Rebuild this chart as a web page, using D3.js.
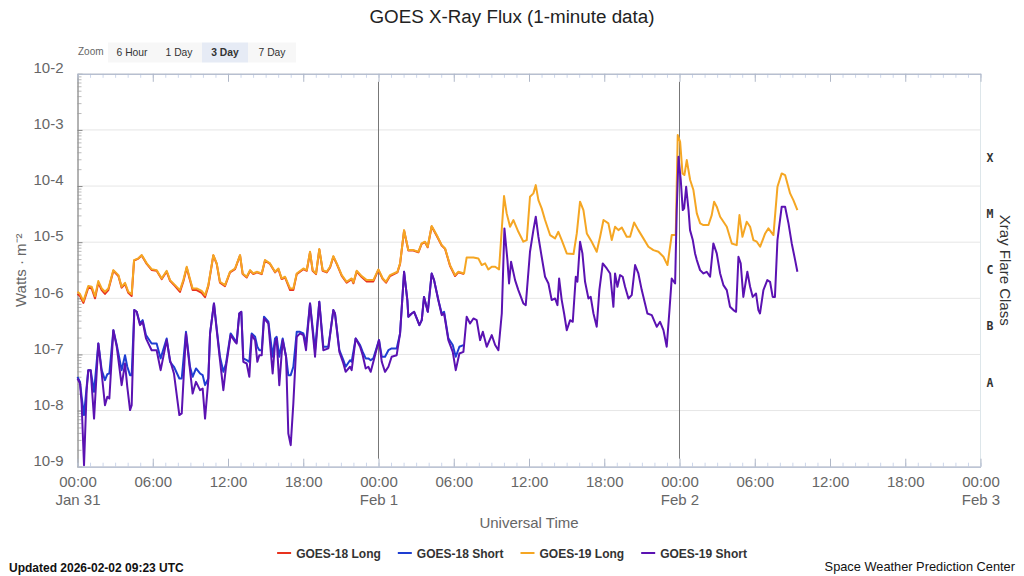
<!DOCTYPE html>
<html>
<head>
<meta charset="utf-8">
<title>GOES X-Ray Flux</title>
<script src="https://cdn.jsdelivr.net/npm/d3@7"></script>
<style>
  body { margin: 0; background: #fff; }
  svg { display: block; font-family: "Liberation Sans", Arial, Helvetica, sans-serif; }
</style>
</head>
<body>
<div id="chart"></div>
<script>

// readings: [hours after 2026-01-31 00:00 UTC, flux in W/m^2]
var g18Long = [[0,1.2e-6],[0.2,1.1e-6],[0.47,8.3e-7],[0.86,1.55e-6],[1.13,1.5e-6],[1.40,1.0e-6],[1.66,1.9e-6],[1.93,1.4e-6],[2.19,1.2e-6],[2.46,1.4e-6],
  [2.86,3.1e-6],[3.26,2.5e-6],[3.52,1.55e-6],[3.79,1.8e-6],[4.05,1.25e-6],[4.32,1.1e-6],[4.51,4.7e-6],[4.85,5.1e-6],[5.12,5.8e-6],[5.52,4.1e-6],
  [5.91,3.2e-6],[6.31,3.1e-6],[6.71,2.2e-6],[7.11,3.0e-6],[7.38,2.05e-6],[7.78,1.65e-6],[8.17,1.3e-6],[8.44,2.0e-6],[8.71,3.5e-6],[8.92,2.3e-6],
  [9.18,1.4e-6],[9.50,1.4e-6],[9.90,1.25e-6],[10.17,1.05e-6],[10.43,1.65e-6],[10.83,5.8e-6],[11.10,4.1e-6],[11.36,1.9e-6],[11.76,1.65e-6],[12.16,2.9e-6],
  [12.56,3.3e-6],[12.96,5.8e-6],[13.17,2.7e-6],[13.49,2.35e-6],[13.76,3.1e-6],[14.02,2.7e-6],[14.29,2.9e-6],[14.69,2.7e-6],[14.95,4.7e-6],[15.35,4.1e-6],
  [15.75,2.9e-6],[16.02,3.3e-6],[16.28,2.2e-6],[16.55,2.35e-6],[16.95,1.4e-6],[17.21,1.4e-6],[17.48,2.7e-6],[18.01,3.3e-6],[18.28,3.1e-6],[18.54,6.6e-6],
  [18.75,3.1e-6],[19.02,2.7e-6],[19.28,7.4e-6],[19.55,3.1e-6],[19.87,2.9e-6],[20.14,3.55e-6],[20.40,5.5e-6],[20.67,4.1e-6],[21.07,2.5e-6],[21.46,1.9e-6],
  [21.86,2.2e-6],[22.0,1.85e-6],[22.26,3.0e-6],[22.66,2.4e-6],[23.06,2.0e-6],[23.59,2.0e-6],[23.99,3.2e-6],[24.34,2.2e-6],[24.60,1.9e-6],[24.92,2.5e-6],
  [25.51,2.9e-6],[25.72,4.1e-6],[26.04,1.6e-5],[26.38,7.1e-6],[26.78,7.1e-6],[27.18,6.6e-6],[27.44,9.3e-6],[27.71,1.0e-5],[27.92,8.1e-6],[28.24,1.9e-5],
  [28.64,1.3e-5],[29.04,8.7e-6],[29.31,7.6e-6],[29.70,3.8e-6],[30.10,2.5e-6],[30.37,2.9e-6],[30.82,2.7e-6]];

var g18Short = [[0,3.99e-8],[0.2,3.25e-8],[0.33,1.76e-8],[0.52,8.3e-9],[0.73,2.65e-8],[0.86,5.25e-8],[1.05,5.25e-8],[1.32,2.16e-8],[1.66,1.57e-7],[1.93,5.25e-8],
  [2.19,3.48e-8],[2.38,4.46e-8],[2.54,4.58e-8],[2.86,2.71e-7],[3.13,1.47e-7],[3.52,5.25e-8],[3.79,9.7e-8],[3.97,6.03e-8],[4.19,4.28e-8],[4.32,4.28e-8],
  [4.53,6.17e-7],[4.72,5.75e-7],[4.98,3.56e-7],[5.20,4.08e-7],[5.46,2.21e-7],[5.91,1.57e-7],[6.31,1.57e-7],[6.63,8.5e-8],[7.11,1.93e-7],[7.38,7.4e-8],
  [7.69,6.03e-8],[8.12,3.73e-8],[8.31,3.73e-8],[8.65,2.53e-7],[8.97,6.03e-8],[9.18,3.99e-8],[9.45,5.62e-8],[9.77,4.58e-8],[9.98,4.28e-8],[10.17,2.84e-8],
  [10.43,3.73e-8],[10.57,2.37e-7],[10.88,8.1e-7],[11.10,2.9e-7],[11.36,9.1e-8],[11.63,4.9e-8],[11.84,6.9e-8],[12.21,2.37e-7],[12.56,1.8e-7],[12.69,1.68e-7],
  [12.90,5.37e-7],[13.06,5.75e-7],[13.22,8.5e-8],[13.49,7.9e-8],[13.70,7.4e-8],[13.89,2.37e-7],[14.16,2.06e-7],[14.34,1.37e-7],[14.50,1.19e-7],[14.69,1.19e-7],
  [14.87,4.69e-7],[15.22,3.82e-7],[15.56,9.1e-8],[15.75,1.93e-7],[15.88,2.06e-7],[16.09,9.1e-8],[16.36,1.93e-7],[16.63,9.1e-8],[16.81,4.28e-8],[17.00,4.28e-8],
  [17.21,6.03e-8],[17.48,2.53e-7],[17.74,2.53e-7],[18.01,2.37e-7],[18.22,1.57e-7],[18.54,8.1e-7],[18.94,1.19e-7],[19.28,8.67e-7],[19.60,1.37e-7],[20.00,1.37e-7],
  [20.40,6.17e-7],[20.53,5.37e-7],[20.88,1.19e-7],[21.20,7.9e-8],[21.38,6.03e-8],[21.73,7.9e-8],[21.86,7.4e-8],[22.18,1.93e-7],[22.53,1.47e-7],[22.74,1.11e-7],
  [22.98,8.5e-8],[23.19,8.5e-8],[23.38,7.9e-8],[23.59,8.5e-8],[24.04,1.8e-7],[24.26,9.1e-8],[24.52,9.1e-8],[24.79,1.19e-7],[25.05,1.28e-7],[25.45,1.28e-7],
  [25.72,2.37e-7],[26.04,2.97e-6],[26.30,9.3e-7],[26.38,4.69e-7],[26.65,5.37e-7],[26.84,5.75e-7],[27.05,4.38e-7],[27.26,3.33e-7],[27.45,4.08e-7],[27.63,1.06e-6],
  [27.93,5.75e-7],[28.24,2.77e-6],[28.43,2.11e-6],[28.77,9.3e-7],[29.04,5.37e-7],[29.23,5.75e-7],[29.57,1.93e-7],[29.92,1.47e-7],[30.16,9.1e-8],[30.45,1.37e-7],
  [30.77,1.47e-7]];

var g19Long = [[0,1.31e-6],[0.2,1.19e-6],[0.47,8.9e-7],[0.86,1.65e-6],[1.13,1.61e-6],[1.40,1.09e-6],[1.66,2.03e-6],[1.93,1.5e-6],[2.19,1.31e-6],[2.46,1.5e-6],
  [2.86,3.18e-6],[3.26,2.59e-6],[3.52,1.61e-6],[3.79,1.89e-6],[4.05,1.31e-6],[4.32,1.19e-6],[4.51,4.8e-6],[4.85,5.14e-6],[5.12,5.89e-6],[5.52,4.19e-6],
  [5.91,3.31e-6],[6.31,3.18e-6],[6.71,2.26e-6],[7.11,3.1e-6],[7.38,2.11e-6],[7.78,1.72e-6],[8.17,1.4e-6],[8.44,2.11e-6],[8.71,3.65e-6],[8.92,2.42e-6],
  [9.18,1.5e-6],[9.50,1.5e-6],[9.90,1.36e-6],[10.17,1.14e-6],[10.43,1.72e-6],[10.83,5.89e-6],[11.10,4.19e-6],[11.36,1.97e-6],[11.76,1.72e-6],[12.16,2.97e-6],
  [12.56,3.4e-6],[12.96,5.89e-6],[13.17,2.77e-6],[13.49,2.42e-6],[13.76,3.18e-6],[14.02,2.77e-6],[14.29,2.97e-6],[14.69,2.77e-6],[14.95,4.8e-6],[15.35,4.19e-6],
  [15.75,2.97e-6],[16.02,3.4e-6],[16.28,2.26e-6],[16.55,2.42e-6],[16.95,1.5e-6],[17.21,1.5e-6],[17.48,2.77e-6],[18.01,3.4e-6],[18.28,3.18e-6],[18.54,6.75e-6],
  [18.75,3.18e-6],[19.02,2.77e-6],[19.28,7.54e-6],[19.55,3.18e-6],[19.87,2.97e-6],[20.14,3.65e-6],[20.40,5.65e-6],[20.67,4.19e-6],[21.07,2.59e-6],[21.46,1.97e-6],
  [21.86,2.26e-6],[22.0,1.92e-6],[22.26,3.1e-6],[22.66,2.49e-6],[23.06,2.11e-6],[23.59,2.11e-6],[23.99,3.27e-6],[24.34,2.26e-6],[24.60,1.97e-6],[24.92,2.59e-6],
  [25.51,2.97e-6],[25.72,4.19e-6],[26.04,1.64e-5],[26.38,7.23e-6],[26.78,7.23e-6],[27.18,6.75e-6],[27.44,9.5e-6],[27.71,1.02e-5],[27.92,8.3e-6],[28.24,1.94e-5],
  [28.64,1.34e-5],[29.04,8.87e-6],[29.31,7.74e-6],[29.70,3.91e-6],[30.10,2.59e-6],[30.37,2.97e-6],[30.82,2.77e-6],[31.03,5.35e-6],[31.57,5.35e-6],[31.96,5.14e-6],
  [32.23,3.91e-6],[32.50,4.19e-6],[32.76,3.27e-6],[33.03,3.65e-6],[33.30,3.65e-6],[33.61,3.27e-6],[34.01,6.64e-5],[34.22,3.26e-5],[34.49,1.88e-5],[34.76,2.48e-5],
  [35.15,1.53e-5],[35.55,1.02e-5],[35.82,1.09e-5],[36.08,6.46e-5],[36.35,7.4e-5],[36.54,1.04e-4],[36.75,5.62e-5],[37.01,4.0e-5],[37.28,2.48e-5],[37.68,1.34e-5],
  [38.08,1.17e-5],[38.34,1.53e-5],[38.61,1.09e-5],[39.01,6.31e-6],[39.55,6.14e-6],[39.81,1.43e-5],[40.07,5.26e-5],[40.34,3.73e-5],[40.61,1.43e-5],[41.00,1.02e-5],
  [41.40,6.75e-6],[41.67,1.25e-5],[41.94,2.48e-5],[42.33,2.16e-5],[42.60,1.09e-5],[42.86,1.88e-5],[43.13,1.64e-5],[43.40,1.83e-5],[43.79,1.25e-5],[44.06,1.25e-5],
  [44.38,2.25e-5],[44.72,1.64e-5],[45.12,1.17e-5],[45.52,8.3e-6],[45.92,7.23e-6],[46.32,6.75e-6],[46.72,5.5e-6],[47.04,3.91e-6],[47.38,1.34e-5],[47.70,1.34e-5],
  [47.86,8.1e-4],[48.05,6.16e-4],[48.24,1.68e-4],[48.39,1.57e-4],[48.58,2.9e-4],[48.85,1.28e-4],[49.11,8.5e-5],[49.38,3.26e-5],[49.65,2.16e-5],[49.91,2.02e-5],
  [50.31,2.02e-5],[50.57,3.04e-5],[50.76,5.26e-5],[50.97,4.29e-5],[51.24,2.84e-5],[51.77,1.88e-5],[52.17,9.5e-6],[52.56,8.87e-6],[52.78,3.04e-5],[53.02,1.25e-5],
  [53.36,2.31e-5],[53.63,1.88e-5],[53.89,1.09e-5],[54.16,1.02e-5],[54.43,8.3e-6],[54.83,1.43e-5],[55.09,1.76e-5],[55.49,1.34e-5],[55.81,9.7e-5],[56.15,1.68e-4],
  [56.42,1.57e-4],[56.82,7.4e-5],[57.08,5.62e-5],[57.40,3.73e-5]];

var g19Short = [[0,3.73e-8],[0.2,3.03e-8],[0.33,1.34e-8],[0.52,1.06e-9],[0.73,2.31e-8],[0.86,5.25e-8],[1.05,5.25e-8],[1.32,7.2e-9],[1.66,1.57e-7],[1.93,4.58e-8],
  [2.19,1.25e-8],[2.38,1.76e-8],[2.54,1.64e-8],[2.86,2.71e-7],[3.13,1.37e-7],[3.52,2.84e-8],[3.79,6.9e-8],[3.97,2.65e-8],[4.19,1.02e-8],[4.32,1.25e-8],
  [4.53,6.17e-7],[4.72,5.75e-7],[4.98,3.33e-7],[5.20,3.82e-7],[5.46,1.93e-7],[5.91,1.19e-7],[6.31,1.19e-7],[6.63,5.25e-8],[7.11,1.8e-7],[7.38,7.9e-8],
  [7.69,4.58e-8],[8.12,8.3e-9],[8.31,8.9e-9],[8.65,2.37e-7],[8.97,5.25e-8],[9.18,2.01e-8],[9.45,3.25e-8],[9.77,2.31e-8],[9.98,2.47e-8],[10.17,7.2e-9],
  [10.43,3.48e-8],[10.57,2.37e-7],[10.88,8.1e-7],[11.10,2.71e-7],[11.36,7.9e-8],[11.63,2.31e-8],[11.84,6.03e-8],[12.21,2.21e-7],[12.56,1.68e-7],[12.69,1.57e-7],
  [12.90,5.37e-7],[13.06,5.75e-7],[13.22,7.4e-8],[13.49,6.9e-8],[13.70,3.99e-8],[13.89,2.21e-7],[14.16,1.8e-7],[14.34,7.4e-8],[14.50,9.7e-8],[14.69,9.7e-8],
  [14.87,4.38e-7],[15.22,3.56e-7],[15.56,4.58e-8],[15.75,1.57e-7],[15.88,1.93e-7],[16.09,2.84e-8],[16.36,1.8e-7],[16.63,9.1e-8],[16.81,3.9e-9],[17.00,2.42e-9],
  [17.21,1.34e-8],[17.48,2.06e-7],[17.74,2.37e-7],[18.01,2.21e-7],[18.22,1.19e-7],[18.54,8.1e-7],[18.94,9.1e-8],[19.28,8.67e-7],[19.60,1.19e-7],[20.00,1.28e-7],
  [20.40,6.17e-7],[20.53,5.37e-7],[20.88,1.11e-7],[21.20,6.9e-8],[21.38,4.9e-8],[21.73,6.03e-8],[21.86,5.25e-8],[22.18,1.93e-7],[22.53,1.37e-7],[22.74,9.7e-8],
  [22.98,5.62e-8],[23.19,6.03e-8],[23.38,4.9e-8],[23.59,7.4e-8],[24.04,1.8e-7],[24.26,7.4e-8],[24.52,4.9e-8],[24.79,6.03e-8],[25.05,9.1e-8],[25.45,9.7e-8],
  [25.72,2.37e-7],[26.04,2.97e-6],[26.30,9.3e-7],[26.38,4.69e-7],[26.65,5.37e-7],[26.84,5.75e-7],[27.05,4.38e-7],[27.26,3.33e-7],[27.45,4.08e-7],[27.63,1.06e-6],
  [27.93,5.75e-7],[28.24,2.77e-6],[28.43,2.11e-6],[28.77,9.3e-7],[29.04,5.02e-7],[29.23,5.37e-7],[29.57,1.8e-7],[29.92,1.11e-7],[30.16,5.25e-8],[30.45,1.04e-7],
  [30.77,1.11e-7],[31.03,4.69e-7],[31.30,3.56e-7],[31.57,4.38e-7],[31.83,4.08e-7],[32.10,1.8e-7],[32.32,2.53e-7],[32.63,1.37e-7],[33.03,2.21e-7],[33.30,1.47e-7],
  [33.56,1.19e-7],[33.83,5.37e-7],[34.04,1.76e-5],[34.28,4.8e-6],[34.41,1.84e-6],[34.57,4.48e-6],[34.89,2.11e-6],[35.15,1.4e-6],[35.55,8.1e-7],[35.74,7.57e-7],
  [36.08,6.75e-6],[36.35,1.64e-5],[36.54,2.84e-5],[36.75,1.25e-5],[37.01,5.5e-6],[37.28,2.42e-6],[37.55,1.84e-6],[37.81,9.3e-7],[38.08,9.95e-7],[38.27,7.57e-7],
  [38.40,2.26e-6],[38.61,9.3e-7],[38.80,5.37e-7],[39.01,2.71e-7],[39.28,4.08e-7],[39.49,3.82e-7],[39.73,2.42e-6],[39.86,1.97e-6],[40.07,1.02e-5],[40.26,6.31e-6],
  [40.47,1.97e-6],[40.74,9.95e-7],[40.92,1.06e-6],[41.14,5.37e-7],[41.40,3.11e-7],[41.61,1.4e-6],[41.88,4.19e-6],[42.20,3.4e-6],[42.47,2.77e-6],[42.73,7.06e-7],
  [42.86,2.77e-6],[43.05,1.61e-6],[43.26,2.59e-6],[43.47,2.42e-6],[43.66,1.61e-6],[43.93,9.95e-7],[44.19,1.14e-6],[44.46,3.91e-6],[44.72,2.77e-6],[44.99,1.4e-6],
  [45.25,8.1e-7],[45.44,5.37e-7],[45.79,5.02e-7],[46.19,3.11e-7],[46.45,3.82e-7],[46.72,2.71e-7],[46.98,1.37e-7],[47.20,6.17e-7],[47.38,2.26e-6],[47.65,1.84e-6],
  [47.78,3.73e-5],[47.92,3.33e-4],[48.10,1.28e-4],[48.26,3.73e-5],[48.37,4.0e-5],[48.53,9.7e-5],[48.72,3.73e-5],[48.84,1.64e-5],[49.06,1.09e-5],[49.24,6.31e-6],
  [49.38,4.8e-6],[49.64,3.18e-6],[49.91,2.77e-6],[50.17,2.97e-6],[50.44,2.42e-6],[50.70,9.5e-6],[50.97,6.31e-6],[51.24,2.77e-6],[51.50,1.72e-6],[51.77,1.4e-6],
  [52.03,7.06e-7],[52.30,6.17e-7],[52.51,5.75e-7],[52.70,5.5e-6],[52.88,4.19e-6],[53.09,1.06e-6],[53.41,2.97e-6],[53.63,1.61e-6],[53.84,1.06e-6],[54.10,1.22e-6],
  [54.29,6.17e-7],[54.42,5.37e-7],[54.69,1.4e-6],[55.00,2.11e-6],[55.22,1.97e-6],[55.43,1.06e-6],[55.61,1.06e-6],[55.81,1.09e-5],[56.15,4.29e-5],[56.42,4.29e-5],
  [56.69,2.16e-5],[56.95,9.5e-6],[57.22,4.8e-6],[57.40,2.97e-6]];

var seriesNames = ["GOES-18 Long", "GOES-18 Short", "GOES-19 Long", "GOES-19 Short"];
var seriesColors = ["#e8321e", "#1e3ed2", "#f5a623", "#5b12b2"];
var rangeButtons = ["6 Hour", "1 Day", "3 Day", "7 Day"];
var flareClasses = ["A", "B", "C", "M", "X"];
var flareStarts = [1e-8, 1e-7, 1e-6, 1e-5, 1e-4];
var decadeTicks = [1e-9, 1e-8, 1e-7, 1e-6, 1e-5, 1e-4, 1e-3, 1e-2];
var startDay = Date.UTC(2026, 0, 31),
    endDay = Date.UTC(2026, 1, 3);
var titleText = "GOES X-Ray Flux (1-minute data)",
    updatedText = "Updated 2026-02-02 09:23 UTC",
    creditText = "Space Weather Prediction Center";

var width = 1024,
    height = 576,
    plot = { left: 77.5, right: 980.5, top: 73.8, bottom: 466.7 };

var x = d3.scaleUtc()
    .domain([new Date(startDay), new Date(endDay)])
    .range([plot.left, plot.right]);

var y = d3.scaleLog()
    .domain([1e-9, 1e-2])
    .range([plot.bottom, plot.top]);

function hoursToDate(h) {
  return new Date(startDay + h * 3600e3)
}

var svg = d3.select("#chart").append("svg")
    .attr("width", width)
    .attr("height", height)

// title
svg.append("text")
    .attr("x", width / 2)
    .attr("y", 23)
    .attr("text-anchor", "middle")
    .style("font-size", "18.8px")
    .attr("fill", "#222")
    .text(titleText)

// range selector buttons (static)
svg.append("text")
    .attr("x", 78)
    .attr("y", 55)
    .style("font-size", "10px")
    .attr("fill", "#666")
    .text("Zoom")

var btnX = [108, 156, 202, 248, 296]
var buttons = svg.append("g").selectAll("g")
    .data(rangeButtons)
    .enter()
    .append("g")

buttons.append("rect")
    .attr("x", function(d, i) { return btnX[i] })
    .attr("y", 42.5)
    .attr("width", function(d, i) { return btnX[i + 1] - btnX[i] })
    .attr("height", 20)
    .attr("fill", function(d) { return d === "3 Day" ? "#e6ebf5" : "#f7f7f7" })

buttons.append("text")
    .attr("x", function(d, i) { return (btnX[i] + btnX[i + 1]) / 2 })
    .attr("y", 55.5)
    .attr("text-anchor", "middle")
    .style("font-size", "10.3px")
    .style("font-weight", function(d) { return d === "3 Day" ? "bold" : "normal" })
    .attr("fill", "#333")
    .text(function(d) { return d })

// horizontal grid at each decade
svg.append("g").selectAll("line")
    .data(decadeTicks)
    .enter()
    .append("line")
    .attr("x1", plot.left)
    .attr("x2", plot.right)
    .attr("y1", function(d) { return y(d) })
    .attr("y2", function(d) { return y(d) })
    .attr("stroke", "#e6e6e6")

// right hand axis line
svg.append("line")
    .attr("x1", plot.right).attr("x2", plot.right)
    .attr("y1", plot.top).attr("y2", plot.bottom)
    .attr("stroke", "#dde6ea")

// minor ticks between decades
var minorTicks = []
decadeTicks.slice(0, -1).forEach(function(d) {
  for (var m = 2; m < 10; m++) minorTicks.push(d * m)
})

function styleAxis(g, color) {
  g.select(".domain").attr("stroke", color)
  g.selectAll(".tick line").attr("stroke", color)
}

svg.append("g")
    .attr("transform", "translate(" + plot.left + ",0)")
    .call(d3.axisLeft(y).tickValues(minorTicks).tickSize(-4).tickSizeOuter(0).tickFormat(""))
    .call(styleAxis, "#bbb")

var yAxis = svg.append("g")
    .attr("transform", "translate(" + plot.left + ",0)")
    .call(d3.axisLeft(y)
      .tickValues(decadeTicks)
      .tickSize(-5)
      .tickSizeOuter(0)
      .tickPadding(14)
      .tickFormat(function(d) { return "10" + Math.round(Math.log10(d)) }))
    .call(styleAxis, "#888")

yAxis.selectAll("text")
    .attr("dy", "-0.08em")
    .attr("fill", "#666")
    .style("font-size", "15px")
    .style("font-family", "inherit")

// time axes, top and bottom
function timeAxis(axisFn, ypos, minorLen, majorLen) {
  svg.append("g")
      .attr("transform", "translate(0," + ypos + ")")
      .call(axisFn(x).ticks(d3.utcHour.every(1)).tickSize(minorLen).tickSizeOuter(0).tickFormat(""))
      .call(styleAxis, "#ccd6eb")
  return svg.append("g")
      .attr("transform", "translate(0," + ypos + ")")
      .call(axisFn(x).ticks(d3.utcHour.every(6)).tickSize(majorLen).tickSizeOuter(0).tickPadding(10)
        .tickFormat(axisFn === d3.axisBottom ? d3.utcFormat("%H:%M") : ""))
      .call(styleAxis, "#b0b8c8")
}

timeAxis(d3.axisTop, plot.top, -4, -8)
var xAxis = timeAxis(d3.axisBottom, plot.bottom, -4, -8)

xAxis.selectAll("text")
    .attr("fill", "#666")
    .style("font-size", "15px")
    .style("font-family", "inherit")

// date under each midnight tick
xAxis.selectAll(".tick")
    .filter(function(d) { return d.getUTCHours() === 0 })
    .append("text")
    .attr("y", 28)
    .attr("dy", "0.71em")
    .attr("fill", "#666")
    .attr("text-anchor", "middle")
    .style("font-size", "15px")
    .text(d3.utcFormat("%b %-d"))

// day boundaries
svg.append("g").selectAll("line")
    .data(d3.utcDay.range(new Date(startDay + 1), new Date(endDay)))
    .enter()
    .append("line")
    .attr("x1", function(d) { return x(d) })
    .attr("x2", function(d) { return x(d) })
    .attr("y1", plot.top + 8)
    .attr("y2", plot.bottom - 8)
    .attr("stroke", "#777")
    .attr("stroke-width", 1)

// axis titles
svg.append("text")
    .attr("transform", "translate(21," + (plot.top + plot.bottom) / 2 + ") rotate(-90)")
    .attr("dy", "0.35em")
    .attr("text-anchor", "middle")
    .attr("fill", "#666")
    .style("font-size", "15px")
    .text("Watts \u00b7 m\u207b\u00b2")

svg.append("text")
    .attr("x", (plot.left + plot.right) / 2)
    .attr("y", 528)
    .attr("text-anchor", "middle")
    .attr("fill", "#666")
    .style("font-size", "15px")
    .text("Universal Time")

svg.append("text")
    .attr("transform", "translate(1005," + (plot.top + plot.bottom) / 2 + ") rotate(90)")
    .attr("dy", "0.35em")
    .attr("text-anchor", "middle")
    .attr("fill", "#333")
    .style("font-size", "15px")
    .text("Xray Flare Class")

// flare class letters sit in the middle of their decade
svg.append("g").selectAll("text")
    .data(flareClasses)
    .enter()
    .append("text")
    .attr("x", 990)
    .attr("y", function(d, i) { return y(flareStarts[i] * Math.sqrt(10)) })
    .attr("dy", "0.35em")
    .attr("text-anchor", "middle")
    .attr("fill", "#333")
    .style("font-family", "'DejaVu Sans Mono', monospace")
    .style("font-weight", "bold")
    .style("font-size", "11.5px")
    .text(function(d) { return d })

// flux lines
var line = d3.line()
    .x(function(d) { return x(hoursToDate(d[0])) })
    .y(function(d) { return y(d[1]) })

svg.append("g").selectAll("path")
    .data([g18Long, g18Short, g19Long, g19Short])
    .enter()
    .append("path")
    .attr("d", line)
    .attr("fill", "none")
    .attr("stroke", function(d, i) { return seriesColors[i] })
    .attr("stroke-width", 2)
    .attr("stroke-linejoin", "round")

// legend, centred under the chart
var legend = svg.append("g")
var items = legend.selectAll("g")
    .data(seriesNames)
    .enter()
    .append("g")

items.append("line")
    .attr("x1", 0).attr("x2", 14)
    .attr("y1", 553).attr("y2", 553)
    .attr("stroke", function(d, i) { return seriesColors[i] })
    .attr("stroke-width", 2)

items.append("text")
    .attr("x", 19)
    .attr("y", 557.5)
    .attr("fill", "#333")
    .style("font-size", "12px")
    .style("font-weight", "bold")
    .text(function(d) { return d })

var offsets = [], cursor = 0
items.each(function() {
  offsets.push(cursor)
  cursor += 19 + d3.select(this).select("text").node().getComputedTextLength() + 17
})
var legendStart = width / 2 - (cursor - 17) / 2
items.attr("transform", function(d, i) { return "translate(" + (legendStart + offsets[i]) + ",0)" })

// footer
svg.append("text")
    .attr("x", 9)
    .attr("y", 572)
    .attr("fill", "#111")
    .style("font-size", "12px")
    .style("font-weight", "bold")
    .text(updatedText)

svg.append("text")
    .attr("x", 1015)
    .attr("y", 571)
    .attr("text-anchor", "end")
    .attr("fill", "#111")
    .style("font-size", "12.8px")
    .text(creditText)

</script>
</body>
</html>
